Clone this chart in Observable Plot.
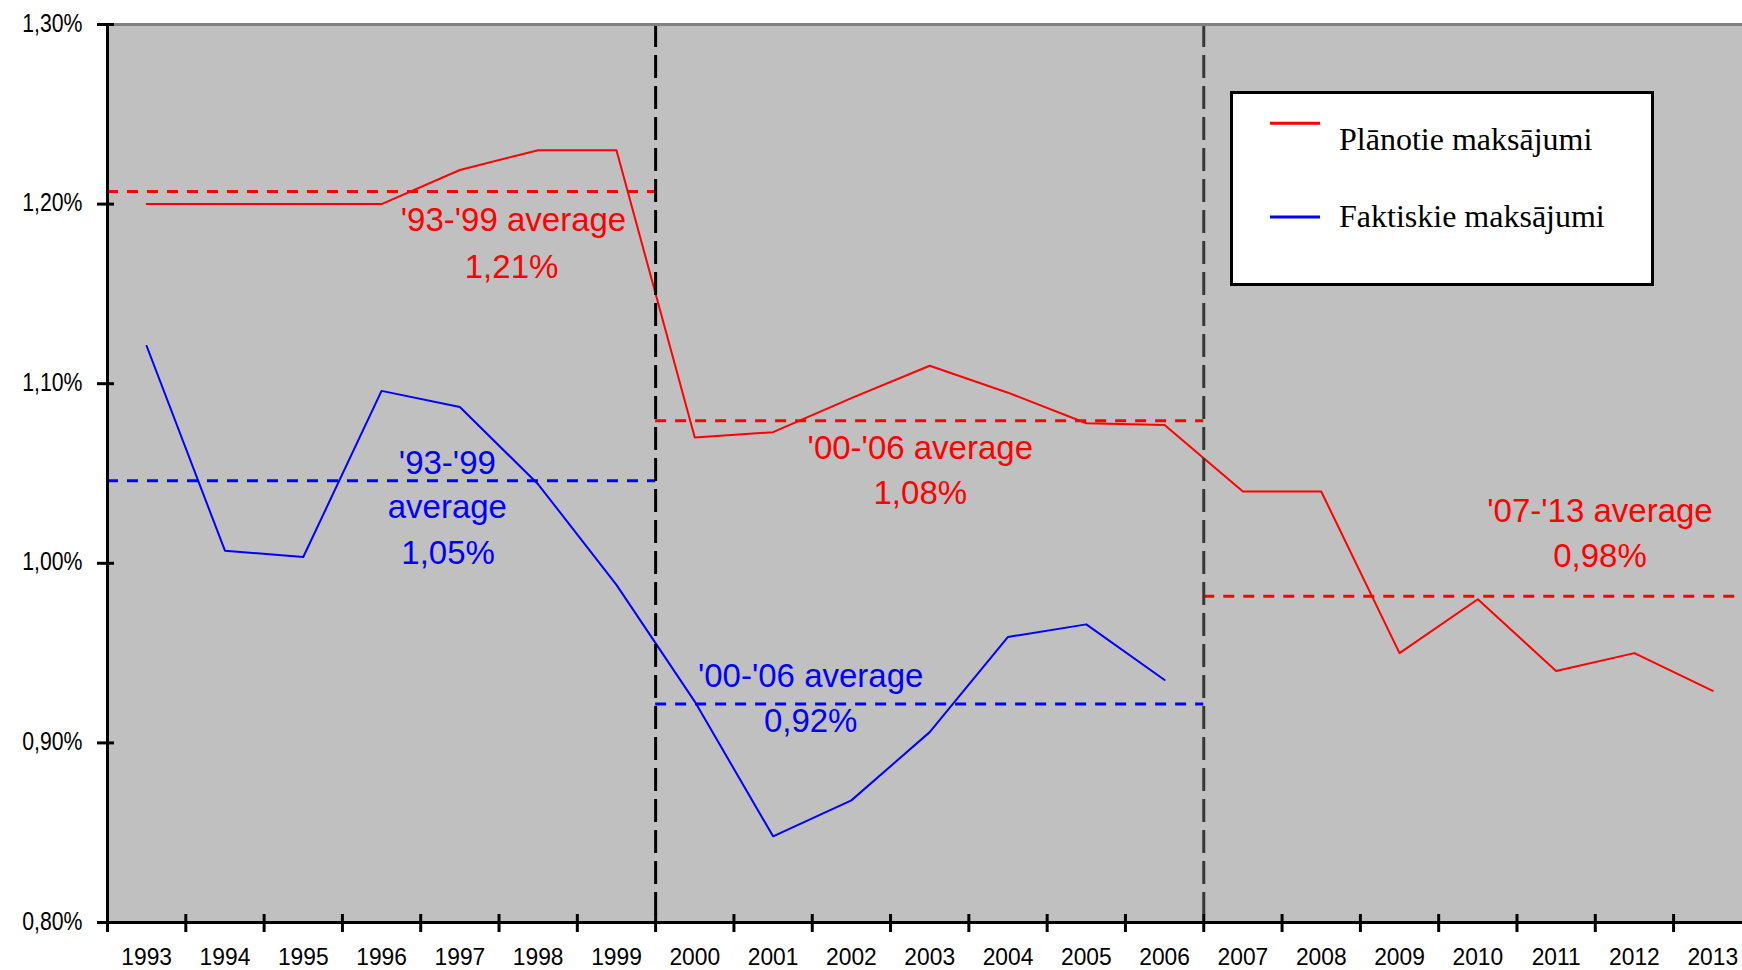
<!DOCTYPE html>
<html>
<head>
<meta charset="utf-8">
<script src="https://cdn.jsdelivr.net/npm/d3@7"></script>
<script src="https://cdn.jsdelivr.net/npm/@observablehq/plot@0.6"></script>
<style>
  html, body { margin: 0; padding: 0; background: #fff; overflow: hidden; }
  #wrap { position: relative; width: 1742px; height: 970px; }
  #legend { position: absolute; left: 1230px; top: 91px; }
</style>
</head>
<body>
<div id="wrap"></div>
<script>
// ---------- data ----------
const years = [1993, 1994, 1995, 1996, 1997, 1998, 1999, 2000, 2001, 2002, 2003,
               2004, 2005, 2006, 2007, 2008, 2009, 2010, 2011, 2012, 2013];
const plannedValues = [1.200, 1.200, 1.200, 1.200, 1.219, 1.230, 1.230, 1.070, 1.073, 1.092, 1.110,
                       1.095, 1.078, 1.077, 1.040, 1.040, 0.950, 0.980, 0.940, 0.950, 0.929];
const actualYears = [1993, 1994, 1995, 1996, 1997, 1998, 1999, 2000, 2001, 2002, 2003, 2004, 2005, 2006];
const actualValues = [1.121, 1.007, 1.0035, 1.096, 1.087, 1.044, 0.988, 0.923, 0.848, 0.868, 0.906,
                      0.959, 0.966, 0.935];
const seriesNames = ["Plānotie maksājumi", "Faktiskie maksājumi"];
const seriesColors = ["#ff0000", "#0000ff"];

const yTicks = [0.80, 0.90, 1.00, 1.10, 1.20, 1.30];
const yDomain = [0.80, 1.30];
const xDomain = [1992.5, 2013.38];
const xTickBoundaries = [1992.5, 1993.5, 1994.5, 1995.5, 1996.5, 1997.5, 1998.5, 1999.5, 2000.5,
                         2001.5, 2002.5, 2003.5, 2004.5, 2005.5, 2006.5, 2007.5, 2008.5, 2009.5,
                         2010.5, 2011.5, 2012.5];
const periodDividers = [1999.5, 2006.5];

// period averages (series index, value, period start, period end)
const avgSeries = [0, 1, 0, 1, 0];
const avgValues = [1.207, 1.046, 1.0794, 0.9217, 0.9816];
const avgStart  = [1992.5, 1992.5, 1999.5, 1999.5, 2006.5];
const avgEnd    = [1999.5, 1999.5, 2006.5, 2006.5, 2013.5];

// annotation texts, anchored (baseline) in data space
const annotationTexts  = ["'93-'99 average", "1,21%", "'93-'99", "average", "1,05%",
                          "'00-'06 average", "1,08%", "'00-'06 average", "0,92%",
                          "'07-'13 average", "0,98%"];
const annotationSeries = [0, 0, 1, 1, 1, 0, 0, 1, 1, 0, 0];
const annotationX = [1997.685, 1997.66, 1996.84, 1996.84, 1996.85, 2002.88, 2002.88,
                     2001.48, 2001.48, 2011.56, 2011.56];
const annotationY = [1.1851, 1.1591, 1.0500, 1.0252, 0.9996, 1.0580, 1.0330,
                     0.9309, 0.9059, 1.0231, 0.9981];

// ---------- tables ----------
const planned = years.map((y, i) => ({year: y, value: plannedValues[i]}));
const actual = actualYears.map((y, i) => ({year: y, value: actualValues[i]}));
const averages = avgValues.map((v, i) => ({series: avgSeries[i], value: v, x1: avgStart[i], x2: avgEnd[i]}));
const annotations = annotationTexts.map((t, i) => ({text: t, series: annotationSeries[i], x: annotationX[i], y: annotationY[i]}));

const sansFont = "'Liberation Sans', Arial, sans-serif";
const fmtPct = d => d.toFixed(2).replace(".", ",") + "%";

const chart = Plot.plot({
  width: 1742,
  height: 970,
  marginLeft: 107,
  marginRight: 0,
  marginTop: 24,
  marginBottom: 48,
  style: {background: "#ffffff", fontFamily: sansFont},
  x: {type: "linear", domain: xDomain},
  y: {type: "linear", domain: yDomain},
  marks: [
    Plot.frame({fill: "#c0c0c0"}),
    // period average dashed lines
    Plot.ruleY(averages, {
      y: "value", x1: "x1", x2: "x2",
      stroke: d => seriesColors[d.series],
      strokeWidth: 3, strokeDasharray: "11,9"
    }),
    // series lines
    Plot.line(planned, {x: "year", y: "value", stroke: seriesColors[0], strokeWidth: 2}),
    Plot.line(actual, {x: "year", y: "value", stroke: seriesColors[1], strokeWidth: 2}),
    // period dividers
    Plot.ruleX([periodDividers[0]], {stroke: "#000000", strokeWidth: 3, strokeDasharray: "23,8"}),
    Plot.ruleX([periodDividers[1]], {stroke: "#383838", strokeWidth: 3, strokeDasharray: "23,8"}),
    // annotations
    Plot.text(annotations, {
      x: "x", y: "y", text: "text",
      fill: d => seriesColors[d.series],
      fontSize: 33, fontFamily: sansFont,
      textAnchor: "middle", lineAnchor: "bottom"
    }),
    // frame lines
    Plot.ruleY([yDomain[1]], {stroke: "#808080", strokeWidth: 3}),
    Plot.ruleX([xDomain[0]], {stroke: "#000000", strokeWidth: 3}),
    Plot.ruleY([yDomain[0]], {stroke: "#000000", strokeWidth: 3}),
    // tick marks crossing the axes
    Plot.ruleY(yTicks, {x1: xDomain[0], x2: xDomain[0], insetLeft: -10, insetRight: -7,
                        stroke: "#000000", strokeWidth: 3}),
    Plot.ruleX(xTickBoundaries, {y1: yDomain[0], y2: yDomain[0], insetTop: 10, insetBottom: 8,
                                 stroke: "#000000", strokeWidth: 3}),
    // axis labels
    Plot.axisY({ticks: yTicks, tickFormat: fmtPct, tickSize: 0, tickPadding: 25,
                fontSize: 25, dy: -1, fill: "#000000"}),
    Plot.axisX({ticks: years, tickFormat: d3.format("d"), tickSize: 0, tickPadding: 25,
                fontSize: 24, fill: "#000000"})
  ]
});

const wrap = document.getElementById("wrap");
wrap.appendChild(chart);

// narrow the pixel-style tick labels
function squeeze(sel, factor) {
  chart.querySelectorAll(sel).forEach(t => {
    const w = t.getComputedTextLength();
    if (w > 0) {
      t.setAttribute("textLength", (w * factor).toFixed(1));
      t.setAttribute("lengthAdjust", "spacingAndGlyphs");
    }
  });
}
squeeze('g[aria-label="x-axis tick label"] text', 0.95);
squeeze('g[aria-label="y-axis tick label"] text', 0.85);

// ---------- legend (inside the plot area, top right) ----------
const legend = d3.select(wrap).append("svg")
  .attr("id", "legend")
  .attr("width", 426).attr("height", 198);
legend.append("rect")
  .attr("x", 1.5).attr("y", 1.5).attr("width", 421).attr("height", 192)
  .attr("fill", "#ffffff").attr("stroke", "#000000").attr("stroke-width", 3);
const rowY = [32.3, 126];
const rowBase = [59, 135.7];
seriesNames.forEach((name, i) => {
  legend.append("line")
    .attr("x1", 40).attr("x2", 90).attr("y1", rowY[i]).attr("y2", rowY[i])
    .attr("stroke", seriesColors[i]).attr("stroke-width", 3);
  legend.append("text")
    .attr("x", 109).attr("y", rowBase[i])
    .attr("font-family", "'Liberation Serif', 'Times New Roman', serif")
    .attr("font-size", 32).attr("fill", "#000000")
    .text(name);
});
</script>
</body>
</html>
